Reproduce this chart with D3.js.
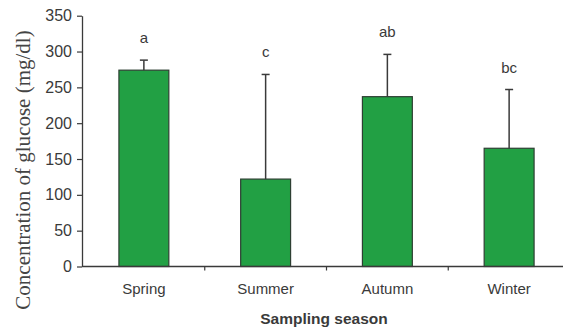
<!DOCTYPE html>
<html><head><meta charset="utf-8">
<script src="https://cdn.jsdelivr.net/npm/d3@7"></script>
<style>body{margin:0;background:#fff}svg{display:block}</style>
</head><body>
<svg id="c" width="568" height="330"></svg>
<script>
const seasons = ["Spring","Summer","Autumn","Winter"];
const meanValues = [274, 122, 237, 165];
const errorTops = [288, 268, 296, 247];
const sigLetters = ["a","c","ab","bc"];
const yTicks = [0,50,100,150,200,250,300,350];

const svg = d3.select("#c");
const x = d3.scaleBand().domain(seasons).range([83,570]).paddingInner(0).paddingOuter(0);
const y = d3.scaleLinear().domain([0,350]).range([266.5,15.7]);
const barW = x.bandwidth()*0.41;
const ink = "#3a3a3a";

// y axis
const ya = svg.append("g").attr("transform","translate(82,0)")
  .call(d3.axisLeft(y).tickValues(yTicks).tickSize(5).tickSizeOuter(0).tickPadding(5));
ya.select(".domain").attr("stroke",ink).attr("stroke-width",1.3);
ya.selectAll(".tick line").attr("stroke",ink).attr("stroke-width",1.2);
ya.selectAll(".tick text").attr("fill",ink).style("font-family","Liberation Sans, Arial, sans-serif").style("font-size","16px");

// bars
const data = seasons.map((s,i)=>({s, v:meanValues[i], e:errorTops[i], l:sigLetters[i]}));
const g = svg.append("g");
g.selectAll("rect").data(data).join("rect")
  .attr("x",d=>x(d.s)+x.bandwidth()/2-barW/2)
  .attr("y",d=>y(d.v))
  .attr("width",barW)
  .attr("height",d=>y(0)-y(d.v))
  .attr("fill","#22a044").attr("stroke","#2e3f33").attr("stroke-width",1.2);

// error bars
g.selectAll("line.err").data(data).join("line").attr("class","err")
  .attr("x1",d=>x(d.s)+x.bandwidth()/2).attr("x2",d=>x(d.s)+x.bandwidth()/2)
  .attr("y1",d=>y(d.v)).attr("y2",d=>y(d.e))
  .attr("stroke",ink).attr("stroke-width",1.5);
g.selectAll("line.cap").data(data).join("line").attr("class","cap")
  .attr("x1",d=>x(d.s)+x.bandwidth()/2-4).attr("x2",d=>x(d.s)+x.bandwidth()/2+4)
  .attr("y1",d=>y(d.e)).attr("y2",d=>y(d.e))
  .attr("stroke",ink).attr("stroke-width",1.5);

// letters
g.selectAll("text.sig").data(data).join("text").attr("class","sig")
  .attr("x",d=>x(d.s)+x.bandwidth()/2)
  .attr("y",d=>y(d.e)-17)
  .attr("text-anchor","middle")
  .attr("fill",ink)
  .style("font-family","Liberation Sans, Arial, sans-serif").style("font-size","15px")
  .text(d=>d.l);

// x axis
const xa = svg.append("g").attr("transform",`translate(0,${y(0)})`)
  .call(d3.axisBottom(x).tickSize(0).tickPadding(17));
xa.select(".domain").attr("d","M82,0H563").attr("stroke",ink).attr("stroke-width",1.3);
xa.selectAll(".tick text").attr("fill",ink).style("font-family","Liberation Sans, Arial, sans-serif").style("font-size","15px");
xa.selectAll("line.sep").data(seasons.slice(1)).join("line").attr("class","sep")
  .attr("x1",d=>x(d)).attr("x2",d=>x(d)).attr("y1",0).attr("y2",4)
  .attr("stroke",ink).attr("stroke-width",1.2);

// axis titles
svg.append("text").attr("x",324).attr("y",324).attr("text-anchor","middle")
  .attr("fill",ink).style("font-family","Liberation Sans, Arial, sans-serif")
  .style("font-size","15.5px").style("font-weight","bold").text("Sampling season");
svg.append("text").attr("transform","translate(30,170) rotate(-90)").attr("text-anchor","middle")
  .attr("fill","#444").style("font-family","Liberation Serif, Times New Roman, serif")
  .style("font-size","21px").text("Concentration of glucose (mg/dl)");
</script>
</body></html>
